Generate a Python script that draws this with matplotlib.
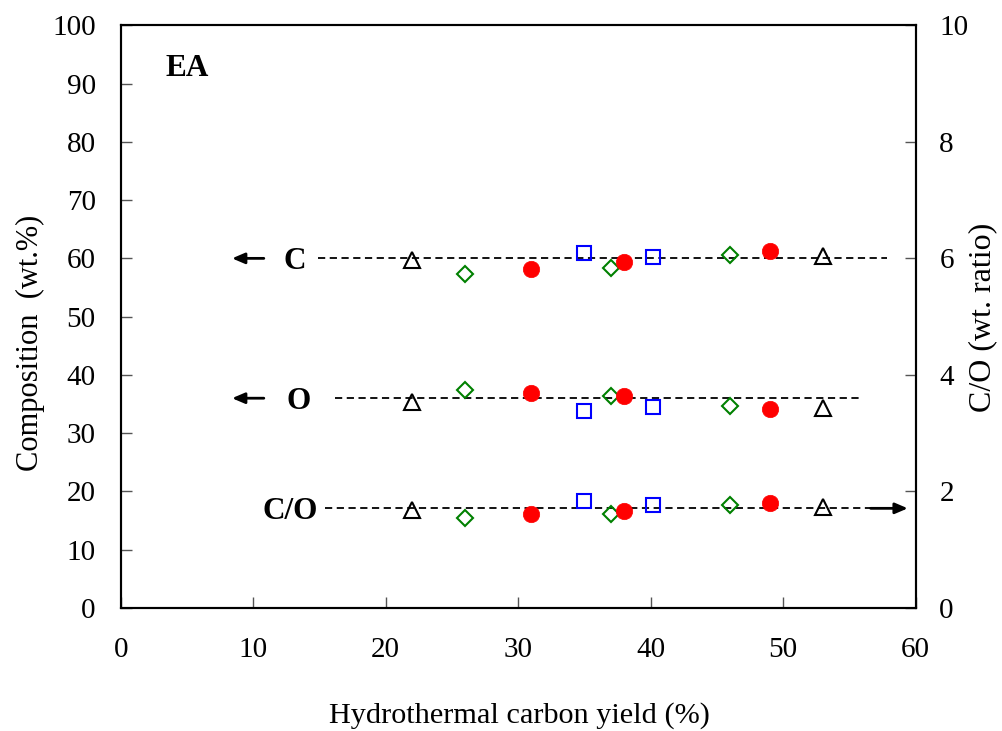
import matplotlib
matplotlib.use("Agg")
import matplotlib.pyplot as plt

plt.rcParams['font.family'] = ['Liberation Serif', 'DejaVu Serif']

# ---- data ----
tri_x = [22, 53]
tri_C = [59.7, 60.4]
tri_O = [35.4, 34.3]
tri_CO = [1.68, 1.74]

dia_x = [26, 37, 46]
dia_C = [57.3, 58.4, 60.5]
dia_O = [37.4, 36.4, 34.7]
dia_CO = [1.54, 1.61, 1.76]

cir_x = [31, 38, 49]
cir_C = [58.2, 59.3, 61.3]
cir_O = [36.9, 36.3, 34.2]
cir_CO = [1.61, 1.66, 1.81]

sq_x = [35, 40.2]
sq_C = [61.0, 60.3]
sq_O = [33.8, 34.5]
sq_CO = [1.84, 1.77]

# reference (dashed) levels
C_level, C_span = 60, [14.9, 57.8]
O_level, O_span = 36, [16.2, 56.0]
CO_level, CO_span = 1.71, [15.4, 56.6]

x_ticks = [0, 10, 20, 30, 40, 50, 60]
yl_ticks = [0, 10, 20, 30, 40, 50, 60, 70, 80, 90, 100]
yr_ticks = [0, 2, 4, 6, 8, 10]

fig = plt.figure(figsize=(10.02, 7.31), dpi=100)
ax = fig.add_axes([0.1205, 0.1683, 0.7934, 0.7971])
ax2 = ax.twinx()

ax.set_xlim(0, 60)
ax.set_ylim(0, 100)
ax2.set_ylim(0, 10)
ax.set_xticks(x_ticks)
ax.set_yticks(yl_ticks)
ax2.set_yticks(yr_ticks)

for a in (ax, ax2):
    for s in a.spines.values():
        s.set_linewidth(1.5)
ax.tick_params(axis='both', direction='in', length=8, width=1.0, color='#555555', labelsize=21)
ax.tick_params(axis='x', pad=21)
ax.tick_params(axis='y', pad=18)
ax2.tick_params(axis='y', direction='in', length=8, width=1.0, color='#555555', labelsize=21, pad=17)

dash = (0, (4, 2.5))
ax.plot(C_span, [C_level, C_level], color='black', lw=1.3, linestyle=dash, zorder=1)
ax.plot(O_span, [O_level, O_level], color='black', lw=1.3, linestyle=dash, zorder=1)
ax2.plot(CO_span, [CO_level, CO_level], color='black', lw=1.3, linestyle=dash, zorder=1)

mew = 1.5
# composition markers
for ys in (tri_C, tri_O):
    ax.plot(tri_x, ys, linestyle='none', marker='^', ms=11.5, mfc='none', mec='black', mew=mew, zorder=3)
for ys in (dia_C, dia_O):
    ax.plot(dia_x, ys, linestyle='none', marker='D', ms=8.5, mfc='none', mec='#008000', mew=mew, zorder=3)
for ys in (sq_C, sq_O):
    ax.plot(sq_x, ys, linestyle='none', marker='s', ms=10.3, mfc='none', mec='#0000ff', mew=mew, zorder=3)
for ys in (cir_C, cir_O):
    ax.plot(cir_x, ys, linestyle='none', marker='o', ms=11.8, mfc='#ff0000', mec='#ff0000', mew=0.5, zorder=4)

# C/O markers on right axis
ax2.plot(tri_x, tri_CO, linestyle='none', marker='^', ms=11.5, mfc='none', mec='black', mew=mew, zorder=3)
ax2.plot(dia_x, dia_CO, linestyle='none', marker='D', ms=8.5, mfc='none', mec='#008000', mew=mew, zorder=3)
ax2.plot(sq_x, sq_CO, linestyle='none', marker='s', ms=10.3, mfc='none', mec='#0000ff', mew=mew, zorder=3)
ax2.plot(cir_x, cir_CO, linestyle='none', marker='o', ms=11.8, mfc='#ff0000', mec='#ff0000', mew=0.5, zorder=4)

# arrows
ap = dict(arrowstyle='-|>,head_length=0.75,head_width=0.32', lw=2.0, color='black', shrinkA=0, shrinkB=0)
ax.annotate('', xy=(8.4, C_level), xytext=(10.8, C_level), arrowprops=ap)
ax.annotate('', xy=(8.4, O_level), xytext=(10.8, O_level), arrowprops=ap)
ax2.annotate('', xy=(59.4, CO_level), xytext=(56.6, CO_level), arrowprops=ap)

# labels
bold = dict(fontsize=22.5, fontweight='bold', ha='center', va='center')
ax.text(13.1, 59.4, 'C', **bold)
ax.text(13.4, 35.5, 'O', **bold)
ax2.text(12.8, 1.655, 'C/O', **bold)
ax.text(5.0, 92.6, 'EA', **bold)

fig.text(519 / 1002, 1 - 716 / 731, 'Hydrothermal carbon yield (%)', fontsize=21.8, ha='center', va='center')
fig.text(30 / 1002, 1 - 343 / 731, 'Composition  (wt.%)', fontsize=22, ha='center', va='center', rotation=90)
fig.text(983 / 1002, 1 - 317 / 731, 'C/O (wt. ratio)', fontsize=23, ha='center', va='center', rotation=90)

fig.savefig('out.png', dpi=100)
